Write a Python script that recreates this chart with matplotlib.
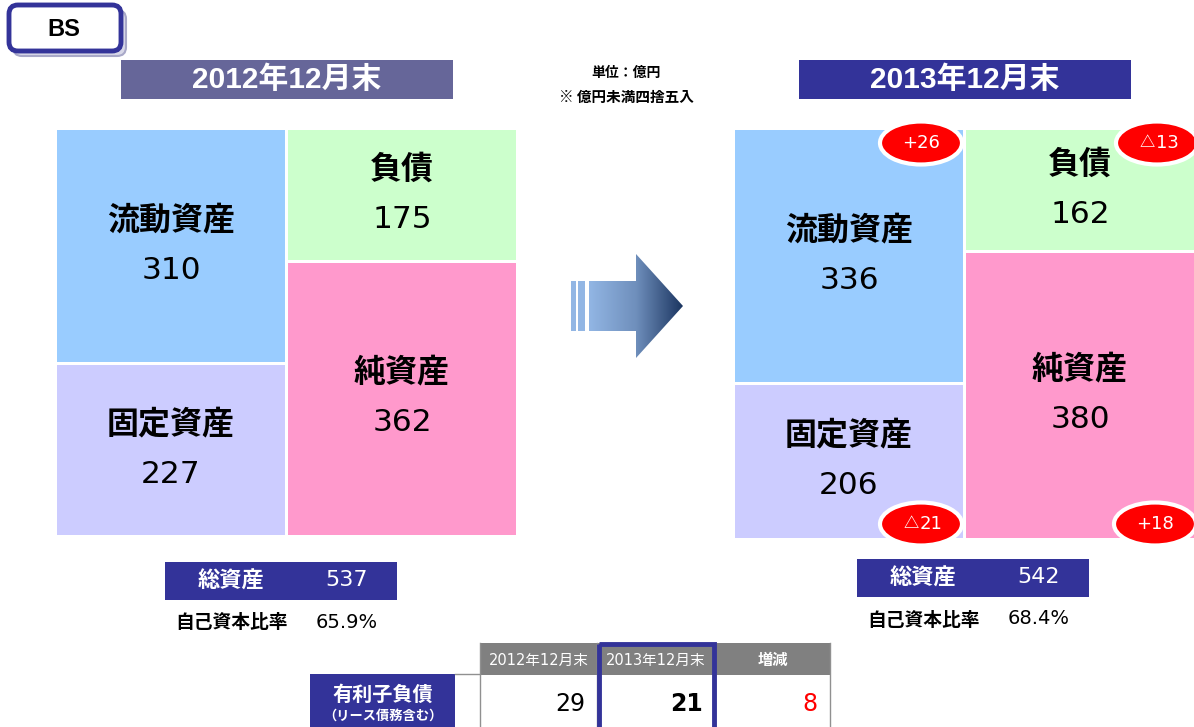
import matplotlib
matplotlib.use('Agg')
import matplotlib.pyplot as plt
import numpy as np
from matplotlib.patches import Rectangle, Ellipse, FancyBboxPatch, Polygon
from matplotlib.colors import LinearSegmentedColormap

plt.rcParams['font.family'] = ['Noto Sans CJK JP', 'DejaVu Sans']

# data
periods = ['2012年12月末', '2013年12月末']
current_assets = [310, 336]
fixed_assets = [227, 206]
liabilities = [175, 162]
net_assets = [362, 380]
total_assets = [537, 542]
equity_ratio = ['65.9%', '68.4%']
debt_label = ['有利子負債', '（リース債務含む）']
debt_cols = ['2012年12月末', '2013年12月末', '増減']
debt_values = [29, 21]

NAVY = '#333399'
C_CUR, C_FIX, C_LIA, C_NET = '#99CCFF', '#CCCCFF', '#CCFFCC', '#FF99CC'
ARIAL_JP = ['Liberation Sans', 'Noto Sans CJK JP']
WIDE_JP = ['DejaVu Sans', 'Noto Sans CJK JP']

fig = plt.figure(figsize=(11.94, 7.27), dpi=100)
ax = fig.add_axes([0, 0, 1, 1])
ax.axis('off')

# BS tag
ax.add_patch(FancyBboxPatch((13, 10), 113, 46, boxstyle='round,pad=0,rounding_size=9',
                            fc='#D8D8E8', ec='#A8A8C8', lw=1.5))
ax.add_patch(FancyBboxPatch((9, 5), 112, 46, boxstyle='round,pad=0,rounding_size=9',
                            fc='white', ec=NAVY, lw=3.5))
ax.text(64, 30, 'BS', fontsize=17, fontweight='bold', ha='center', va='center',
        family=['Liberation Sans'])

# unit note
ax.text(626, 73, '単位：億円', fontsize=10, fontweight='bold', ha='center', va='center')
ax.text(626, 97, '※ 億円未満四捨五入', fontsize=10.5, fontweight='bold', ha='center',
        va='center')

scale = 0.758
top = 130
panels = [(57, 288, '#666699', 121), (735, 966, NAVY, 799)]
total_box = [(165, 562), (857, 559)]


def block(x, y0, val, color, label, w=228):
    h = val * scale
    ax.add_patch(Rectangle((x, y0), w, h - 2.5, fc=color, ec='none'))
    cy = y0 + h / 2
    ax.text(x + w / 2, cy - 27, label, fontsize=23, fontweight='bold',
            ha='center', va='center')
    ax.text(x + w / 2, cy + 23, str(val), fontsize=22.5, ha='center', va='center',
            family=['DejaVu Sans'])
    return y0 + h


def badge(x, y, diff):
    ax.add_patch(Ellipse((x, y), 82, 43, fc='#FF0000', ec='white', lw=3, zorder=5))
    if diff > 0:
        ax.text(x, y, '+%d' % diff, color='white', fontsize=13, ha='center',
                va='center', zorder=6, family=['DejaVu Sans'])
    else:
        ax.text(x - 2, y - 1, '△', color='white', fontsize=11, fontweight='bold',
                ha='right', va='center', zorder=6, family=['Noto Sans CJK JP'])
        ax.text(x - 1, y, str(abs(diff)), color='white', fontsize=13, ha='left',
                va='center', zorder=6, family=['DejaVu Sans'])


for i, (xl, xr, hc, hx) in enumerate(panels):
    ax.add_patch(Rectangle((hx, 60), 332, 39, fc=hc, ec='none'))
    ax.text(hx + 166, 80, periods[i], color='white', fontsize=21.5, fontweight='bold',
            ha='center', va='center', family=ARIAL_JP)
    mid_a = block(xl, top, current_assets[i], C_CUR, '流動資産')
    bot_a = block(xl, mid_a, fixed_assets[i], C_FIX, '固定資産')
    mid_l = block(xr, top, liabilities[i], C_LIA, '負債')
    bot_l = block(xr, mid_l, net_assets[i], C_NET, '純資産')
    # totals
    bx, by = total_box[i]
    ax.add_patch(Rectangle((bx, by), 232, 38, fc=NAVY, ec='none'))
    ax.text(bx + 66, by + 19, '総資産', color='white', fontsize=16, fontweight='bold',
            ha='center', va='center')
    ax.text(bx + 182, by + 18, str(total_assets[i]), color='white', fontsize=16,
            ha='center', va='center', family=['DejaVu Sans'])
    ax.text(bx + 67, by + 61, '自己資本比率', fontsize=13.5, fontweight='bold',
            ha='center', va='center')
    ax.text(bx + 182, by + 60, equity_ratio[i], fontsize=14, ha='center', va='center',
            family=['DejaVu Sans'])
    if i == 1:
        badge(921, 143, current_assets[1] - current_assets[0])
        badge(1157, 143, liabilities[1] - liabilities[0])
        badge(921, 524, fixed_assets[1] - fixed_assets[0])
        badge(1155, 524, net_assets[1] - net_assets[0])

# arrow with gradient
cmap = LinearSegmentedColormap.from_list('arr', ['#92B6E4', '#6F8FBC', '#1B3560'])
grad = np.linspace(0, 1, 256).reshape(1, -1)
arrow = Polygon([(589, 281), (636, 281), (636, 254), (683, 306), (636, 358), (636, 331),
                 (589, 331)], closed=True, fc='none', ec='none')
ax.add_patch(arrow)
im = ax.imshow(grad, cmap=cmap, extent=(589, 683, 358, 254), aspect='auto', zorder=2)
im.set_clip_path(arrow)
ax.add_patch(Rectangle((571, 281), 5, 50, fc='#92B6E4', ec='none'))
ax.add_patch(Rectangle((578, 281), 7, 50, fc='#92B6E4', ec='none'))

# interest-bearing debt table
col_x = [480, 597, 715, 830]
ax.add_patch(Rectangle((col_x[0], 643), col_x[3] - col_x[0], 32, fc='#808080', ec='none'))
for j, name in enumerate(debt_cols):
    ax.text((col_x[j] + col_x[j + 1]) / 2, 660, name, color='white',
            fontsize=11 if j == 2 else 10.5,
            fontweight='bold' if j == 2 else 'normal', ha='center', va='center',
            family=WIDE_JP)
    ax.plot([col_x[j], col_x[j]], [643, 727], color='#909090', lw=1)
ax.plot([col_x[3], col_x[3]], [643, 727], color='#909090', lw=1)
ax.plot([455, col_x[0]], [674, 674], color='#909090', lw=1)
vals = [str(debt_values[0]), str(debt_values[1]), str(debt_values[0] - debt_values[1])]
styles = [('black', 'normal'), ('black', 'bold'), ('#FF0000', 'normal')]
for j, v in enumerate(vals):
    ax.text(col_x[j + 1] - 12, 704, v, color=styles[j][0], fontweight=styles[j][1],
            fontsize=17, ha='right', va='center', family=['DejaVu Sans'])
ax.add_patch(Rectangle((599, 644), 115, 90, fc='none', ec=NAVY, lw=3.5, zorder=4))
ax.add_patch(Rectangle((310, 674), 145, 53, fc=NAVY, ec='none'))
ax.text(383, 694, debt_label[0], color='white', fontsize=14.5, fontweight='bold',
        ha='center', va='center')
ax.text(383, 716, debt_label[1], color='white', fontsize=9.5, fontweight='bold',
        ha='center', va='center')

ax.set_xlim(0, 1194)
ax.set_ylim(727, 0)
fig.savefig('out.png', dpi=100)
